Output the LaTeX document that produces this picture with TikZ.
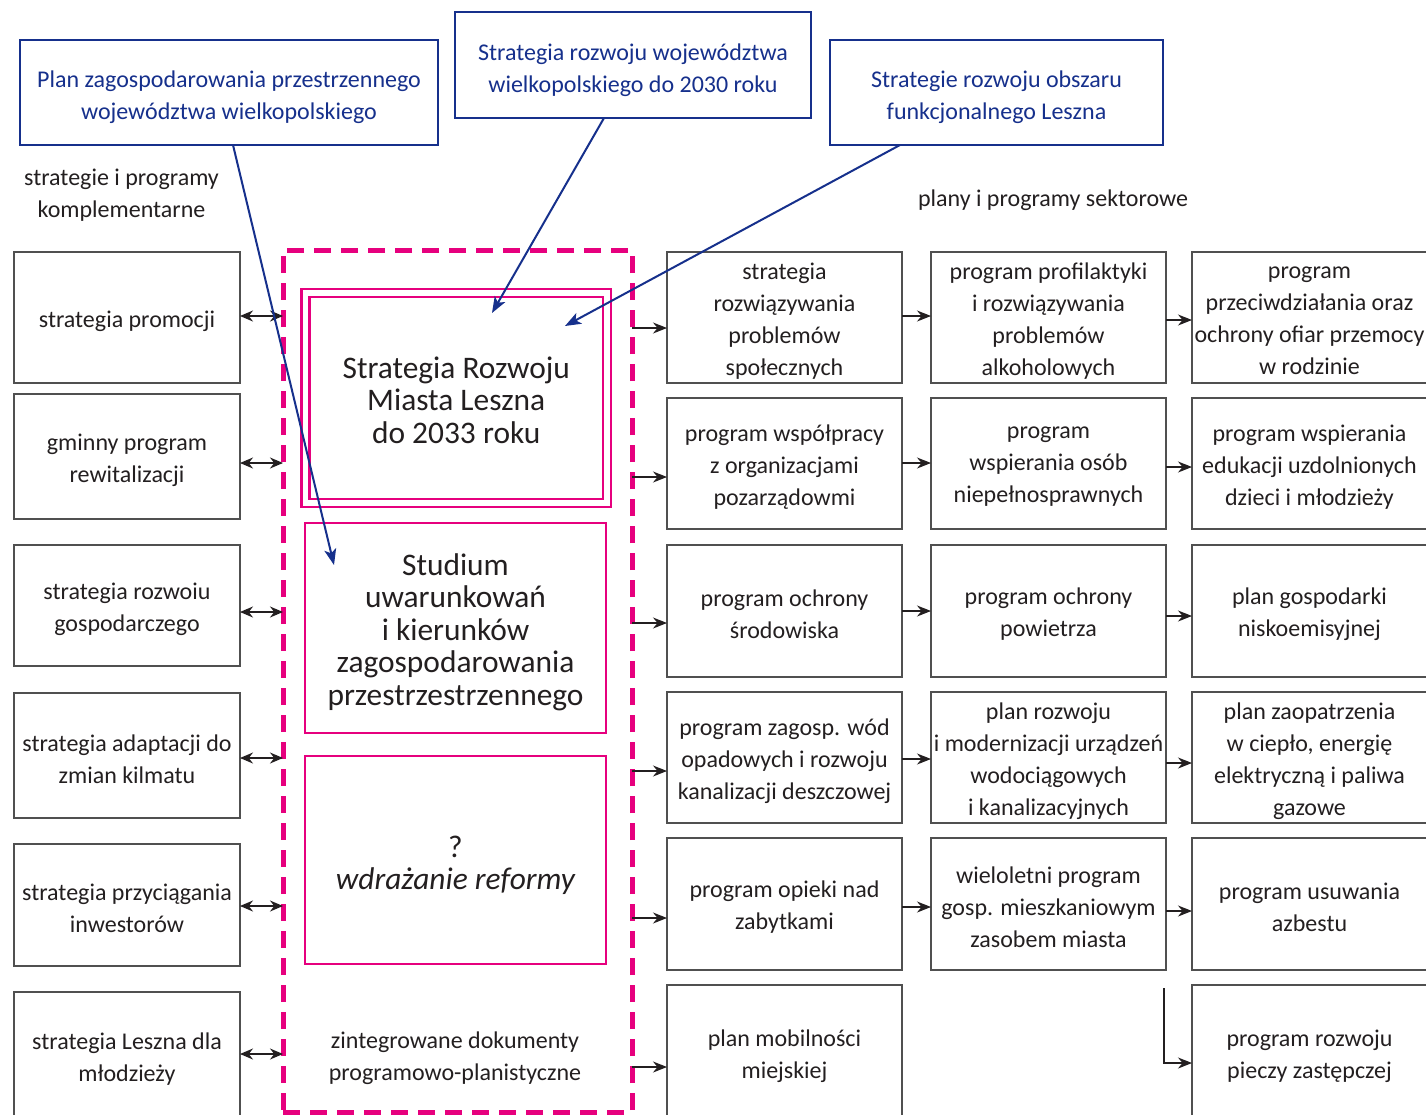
\documentclass[tikz,border=0pt]{standalone}
\usepackage{fontspec}
\setmainfont{Carlito}
\usetikzlibrary{arrows.meta}
\definecolor{bl}{RGB}{22,48,140}
\definecolor{mg}{RGB}{230,0,126}
\definecolor{tx}{RGB}{35,31,32}
\definecolor{gr}{RGB}{80,80,80}
\begin{document}
\begin{tikzpicture}[x=0.5pt,y=-0.5pt,
 sz/.style 2 args={minimum width=#1*0.5pt,minimum height=#2*0.5pt},
 gbox/.style={draw=gr,line width=0.75pt,inner sep=0pt,outer sep=0pt},
 bbox/.style={draw=bl,line width=1.2pt,inner sep=0pt,outer sep=0pt},
 mbox/.style={draw=mg,line width=1.2pt,inner sep=0pt,outer sep=0pt},
 lbl/.style={align=center,text=tx,font=\fontsize{12}{16}\selectfont,inner sep=0pt},
 gt/.style={lbl,yshift=-1.75pt},
 bt/.style={lbl,text=bl,yshift=-2.5pt},
 mt/.style={lbl,font=\fontsize{15.7}{16.2}\selectfont,yshift=-#1},
 arr/.style={draw=tx,line width=0.6pt,-{Stealth[length=7pt,width=5.5pt]}},
 darr/.style={draw=tx,line width=0.6pt,{Stealth[length=6.5pt,width=5.5pt]}-{Stealth[length=6.5pt,width=5.5pt]}},
 barr/.style={draw=bl,line width=1pt,-{Stealth[length=8pt,width=6pt,inset=2pt]}}
]
\useasboundingbox (0,0) rectangle (1426,1115);
\fill[white] (0,0) rectangle (1426,1115);

% top blue boxes
\node[bbox,sz={418}{105}] (p1) at (229,92.5) {};
\node[bt] at (p1) {Plan zagospodarowania przestrzennego\\województwa wielkopolskiego};
\node[bbox,sz={356}{106}] (p2) at (633,65) {};
\node[bt] at (p2) {Strategia rozwoju województwa\\wielkopolskiego do 2030 roku};
\node[bbox,sz={333}{105}] (p3) at (996.5,92.5) {};
\node[bt] at (p3) {Strategie rozwoju obszaru\\funkcjonalnego Leszna};

% labels
\node[lbl,yshift=-1pt] (lk) at (121.5,193) {strategie i programy\\komplementarne};
\node[lbl,yshift=-1pt] (ls) at (1053,198) {plany i programy sektorowe};

% left column
\node[gbox,sz={226}{131}] (L1) at (127,317.5) {};
\node[gt] at (L1) {strategia promocji};
\node[gbox,sz={226}{125}] (L2) at (127,456.5) {};
\node[gt] at (L2) {gminny program\\rewitalizacji};
\node[gbox,sz={226}{121}] (L3) at (127,605.5) {};
\node[gt] at (L3) {strategia rozwoiu\\gospodarczego};
\node[gbox,sz={226}{125}] (L4) at (127,755.5) {};
\node[gt] at (L4) {strategia adaptacji do\\zmian kilmatu};
\node[gbox,sz={226}{122}] (L5) at (127,905) {};
\node[gt] at (L5) {strategia przyciągania\\inwestorów};
\node[gbox,sz={226}{128}] (L6) at (127,1056) {};
\node[gt] at (L6) {strategia Leszna dla\\młodzieży};

% dashed central frame
\node[draw=mg,line width=2.5pt,dash pattern=on 8.5pt off 5pt,sz={349}{862},inner sep=0pt,outer sep=0pt] (dash) at (457.5,681) {};

% central boxes
\node[mbox,line width=1.4pt,double=white,double distance=2.6pt,sz={301.5}{210}] (srml) at (456.25,398) {};
\node[mt=1pt] at (srml) {Strategia Rozwoju\\Miasta Leszna\\do 2033 roku};
\node[mbox,sz={301}{210}] (stud) at (455.5,628) {};
\node[mt=2pt] at (stud) {Studium\\uwarunkowań\\i kierunków\\zagospodarowania\\przestrzestrzennego};
\node[mbox,sz={301}{208}] (wdr) at (455.5,860) {};
\node[mt=2.5pt] at (wdr) {?\\\itshape wdrażanie reformy};
\node[lbl,yshift=-1pt] (zint) at (455,1056) {zintegrowane dokumenty\\programowo-planistyczne};

% right columns
\node[gbox,sz={235}{131}] (A1) at (784.5,317.5) {};
\node[gt] at (A1) {strategia\\rozwiązywania\\problemów\\społecznych};
\node[gbox,sz={235}{131}] (B1) at (1048.5,317.5) {};
\node[gt] at (B1) {program profilaktyki\\i rozwiązywania\\problemów\\alkoholowych};
\node[gbox,sz={235}{131}] (C1) at (1309.5,317.5) {};
\node[gt] at (C1) {program\\przeciwdziałania oraz\\ochrony ofiar przemocy\\w rodzinie};

\node[gbox,sz={235}{131}] (A2) at (784.5,463.5) {};
\node[gt] at (A2) {program współpracy\\z organizacjami\\pozarządowmi};
\node[gbox,sz={235}{131}] (B2) at (1048.5,463.5) {};
\node[gt] at (B2) {program\\wspierania osób\\niepełnosprawnych};
\node[gbox,sz={235}{131}] (C2) at (1309.5,463.5) {};
\node[gt] at (C2) {program wspierania\\edukacji uzdolnionych\\dzieci i młodzieży};

\node[gbox,sz={235}{132}] (A3) at (784.5,611) {};
\node[gt] at (A3) {program ochrony\\środowiska};
\node[gbox,sz={235}{132}] (B3) at (1048.5,611) {};
\node[gt] at (B3) {program ochrony\\powietrza};
\node[gbox,sz={235}{132}] (C3) at (1309.5,611) {};
\node[gt] at (C3) {plan gospodarki\\niskoemisyjnej};

\node[gbox,sz={235}{131}] (A4) at (784.5,757.5) {};
\node[gt] at (A4) {program zagosp. wód\\opadowych i rozwoju\\kanalizacji deszczowej};
\node[gbox,sz={235}{131}] (B4) at (1048.5,757.5) {};
\node[gt] at (B4) {plan rozwoju\\i modernizacji urządzeń\\wodociągowych\\i kanalizacyjnych};
\node[gbox,sz={235}{131}] (C4) at (1309.5,757.5) {};
\node[gt] at (C4) {plan zaopatrzenia\\w ciepło, energię\\elektryczną i paliwa\\gazowe};

\node[gbox,sz={235}{132}] (A5) at (784.5,904) {};
\node[gt] at (A5) {program opieki nad\\zabytkami};
\node[gbox,sz={235}{132}] (B5) at (1048.5,904) {};
\node[gt] at (B5) {wieloletni program\\gosp. mieszkaniowym\\zasobem miasta};
\node[gbox,sz={235}{132}] (C5) at (1309.5,904) {};
\node[gt] at (C5) {program usuwania\\azbestu};

\node[gbox,sz={235}{135}] (A6) at (784.5,1052.5) {};
\node[gt] at (A6) {plan mobilności\\miejskiej};
\node[gbox,sz={235}{135}] (C6) at (1309.5,1052.5) {};
\node[gt] at (C6) {program rozwoju\\pieczy zastępczej};

% double arrows left
\draw[darr] (L1.east |- 0,316) -- (dash.west |- 0,316);
\draw[darr] (L2.east |- 0,463) -- (dash.west |- 0,463);
\draw[darr] (L3.east |- 0,612) -- (dash.west |- 0,612);
\draw[darr] (L4.east |- 0,758) -- (dash.west |- 0,758);
\draw[darr] (L5.east |- 0,906) -- (dash.west |- 0,906);
\draw[darr] (L6.east |- 0,1054) -- (dash.west |- 0,1054);

% arrows dashed -> column A
\draw[arr] (dash.east |- 0,328) -- (A1.west |- 0,328);
\draw[arr] (dash.east |- 0,477) -- (A2.west |- 0,477);
\draw[arr] (dash.east |- 0,623) -- (A3.west |- 0,623);
\draw[arr] (dash.east |- 0,771) -- (A4.west |- 0,771);
\draw[arr] (dash.east |- 0,918) -- (A5.west |- 0,918);
\draw[arr] (dash.east |- 0,1067) -- (A6.west |- 0,1067);

% A -> B
\draw[arr] (A1.east |- 0,316) -- (B1.west |- 0,316);
\draw[arr] (A2.east |- 0,463) -- (B2.west |- 0,463);
\draw[arr] (A3.east |- 0,611) -- (B3.west |- 0,611);
\draw[arr] (A4.east |- 0,759) -- (B4.west |- 0,759);
\draw[arr] (A5.east |- 0,907) -- (B5.west |- 0,907);

% B -> C
\draw[arr] (B1.east |- 0,320) -- (C1.west |- 0,320);
\draw[arr] (B2.east |- 0,467) -- (C2.west |- 0,467);
\draw[arr] (B3.east |- 0,616) -- (C3.west |- 0,616);
\draw[arr] (B4.east |- 0,763) -- (C4.west |- 0,763);
\draw[arr] (B5.east |- 0,911) -- (C5.west |- 0,911);

% elbow to C6
\coordinate (e0) at (1164,988);
\draw[arr] (e0) |- (C6.west |- 0,1063);

% blue arrows
\coordinate (t1) at (334,565);
\coordinate (t2) at (492,313);
\coordinate (t3) at (565,326);
\draw[barr] (233,0 |- p1.south) -- (t1);
\draw[barr] (604,0 |- p2.south) -- (t2);
\draw[barr] (900,0 |- p3.south) -- (t3);
\end{tikzpicture}
\end{document}
